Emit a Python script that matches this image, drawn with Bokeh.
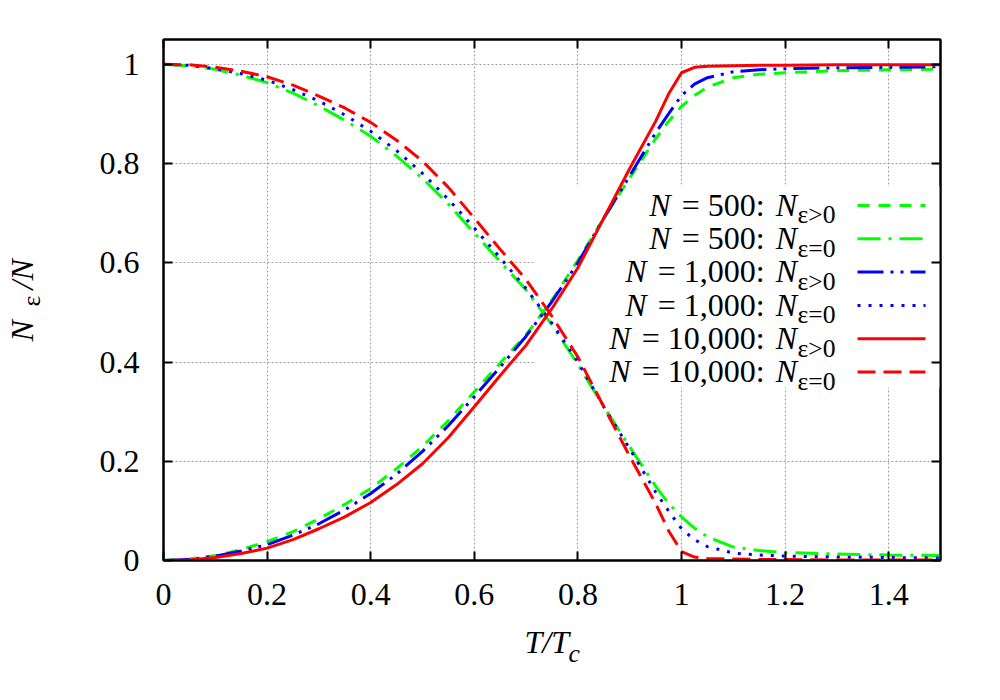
from bokeh.plotting import figure
from bokeh.models import Range1d, LinearAxis, Label, FixedTicker
from bokeh.embed import file_html
from bokeh.resources import INLINE
import math

try:
    from bokeh.core.enums import CoordinateUnits
    HAS_CANVAS = "canvas" in CoordinateUnits
except Exception:
    HAS_CANVAS = False

# ---------------- data ----------------
T = [0, 0.05, 0.1, 0.15, 0.2, 0.25, 0.3, 0.35, 0.4, 0.45, 0.5, 0.55, 0.6, 0.65,
     0.7, 0.75, 0.8, 0.85, 0.9, 0.95, 0.975, 1.0, 1.025, 1.05, 1.1, 1.15, 1.2,
     1.3, 1.4, 1.5]

n500_exc = [0, 0.003, 0.010, 0.022, 0.038, 0.058, 0.084, 0.113, 0.145, 0.185,
            0.230, 0.282, 0.340, 0.398, 0.455, 0.525, 0.605, 0.690, 0.771, 0.850,
            0.885, 0.915, 0.937, 0.954, 0.973, 0.980, 0.983, 0.987, 0.989, 0.990]
n500_gnd = [1.0, 0.997, 0.990, 0.978, 0.963, 0.942, 0.916, 0.887, 0.855, 0.815,
            0.770, 0.718, 0.660, 0.602, 0.545, 0.475, 0.395, 0.310, 0.229, 0.150,
            0.115, 0.088, 0.065, 0.048, 0.027, 0.020, 0.016, 0.013, 0.011, 0.010]
n1000_exc = [0, 0.002, 0.009, 0.019, 0.032, 0.051, 0.074, 0.102, 0.135, 0.174,
             0.220, 0.272, 0.330, 0.390, 0.452, 0.522, 0.600, 0.690, 0.775, 0.862,
             0.900, 0.937, 0.960, 0.973, 0.985, 0.989, 0.991, 0.993, 0.994, 0.995]
n1000_gnd = [1.0, 0.998, 0.991, 0.981, 0.968, 0.949, 0.926, 0.898, 0.865, 0.826,
             0.780, 0.728, 0.670, 0.610, 0.548, 0.478, 0.400, 0.310, 0.225, 0.138,
             0.100, 0.064, 0.042, 0.028, 0.015, 0.011, 0.009, 0.007, 0.006, 0.005]
n10000_exc = [0, 0.001, 0.006, 0.014, 0.025, 0.042, 0.064, 0.088, 0.117, 0.153,
              0.195, 0.248, 0.310, 0.373, 0.434, 0.508, 0.590, 0.690, 0.790, 0.885,
              0.940, 0.983, 0.994, 0.996, 0.997, 0.998, 0.998, 0.999, 0.999, 0.999]
n10000_gnd = [1.0, 0.999, 0.994, 0.986, 0.975, 0.958, 0.936, 0.912, 0.883, 0.847,
              0.805, 0.752, 0.690, 0.627, 0.566, 0.492, 0.410, 0.310, 0.210, 0.115,
              0.060, 0.018, 0.007, 0.004, 0.003, 0.002, 0.002, 0.001, 0.001, 0.001]

x_ticks = [0, 0.2, 0.4, 0.6, 0.8, 1.0, 1.2, 1.4]
x_tick_labels = ["0", "0.2", "0.4", "0.6", "0.8", "1", "1.2", "1.4"]
y_ticks = [0, 0.2, 0.4, 0.6, 0.8, 1.0]
y_tick_labels = ["0", "0.2", "0.4", "0.6", "0.8", "1"]

legend_sizes = ["500", "500", "1,000", "1,000", "10,000", "10,000"]
legend_subs = ["\u03b5>0", "\u03b5=0", "\u03b5>0", "\u03b5=0", "\u03b5>0", "\u03b5=0"]

# ---------------- styles ----------------
GREEN, BLUE, RED = "#00ff00", "#0000ff", "#ff0000"
series = [
    (n500_exc, GREEN, "12 9"),
    (n500_gnd, GREEN, "23 8 3 8"),
    (n1000_exc, BLUE, "26 7 3 7 3 7"),
    (n1000_gnd, BLUE, "3 8"),
    (n10000_exc, RED, "solid"),
    (n10000_gnd, RED, "18 8"),
]
FONT = "Liberation Serif"
FS = 32
SUB_FS = 25.6
BASE_FIX = 9  # measured offset between requested and drawn baseline

# frame geometry (page pixels; the figure sits at the page's top-left corner)
FL, FR, FT, FB = 163, 940, 39, 560
XMIN, XMAX, YMIN, YMAX = 0.0, 1.5, 0.0, 1.05
W, H = 1000, 700


def X(px):
    return XMIN + (px - FL) / (FR - FL) * (XMAX - XMIN)


def Y(py):
    return YMIN + (FB - py) / (FB - FT) * (YMAX - YMIN)


p = figure(width=W, height=H, output_backend="svg", toolbar_location=None,
           x_range=Range1d(XMIN, XMAX), y_range=Range1d(YMIN, YMAX),
           min_border_left=FL, min_border_right=W - FR,
           min_border_top=FT, min_border_bottom=H - FB)
p.background_fill_color = "white"
p.border_fill_color = "white"
p.outline_line_color = "black"
p.outline_line_width = 2


def style_axis(ax, ticks, labels, show_labels):
    ax.ticker = FixedTicker(ticks=ticks)
    ax.major_label_overrides = {t: (l if show_labels else "") for t, l in zip(ticks, labels)}
    ax.axis_line_color = "black"
    ax.axis_line_width = 2
    ax.major_tick_line_color = "black"
    ax.major_tick_line_width = 2
    ax.major_tick_in = 9
    ax.major_tick_out = 0
    ax.minor_tick_line_color = None
    ax.major_label_text_font = FONT
    ax.major_label_text_color = "black"
    ax.major_label_text_font_size = f"{FS}px" if show_labels else "8px"
    if not show_labels:
        ax.major_label_standoff = 0
    ax.axis_label = None


style_axis(p.xaxis[0], x_ticks, x_tick_labels, True)
style_axis(p.yaxis[0], y_ticks, y_tick_labels, True)
p.xaxis[0].major_label_standoff = 23
p.yaxis[0].major_label_standoff = 24

top_ax = LinearAxis()
style_axis(top_ax, x_ticks, x_tick_labels, False)
p.add_layout(top_ax, "above")
right_ax = LinearAxis()
style_axis(right_ax, y_ticks, y_tick_labels, False)
p.add_layout(right_ax, "right")

for g in (p.xgrid[0], p.ygrid[0]):
    g.grid_line_color = "#a0a0a0"
    g.grid_line_dash = "2 2"
    g.grid_line_width = 1
p.xgrid[0].ticker = FixedTicker(ticks=x_ticks)
p.ygrid[0].ticker = FixedTicker(ticks=y_ticks)

# white key background (hides the grid, lies under the curves)
p.quad(left=[X(535)], right=[XMAX], bottom=[Y(387)], top=[Y(186)],
       fill_color="white", line_color=None)

for ys, col, dash in series:
    p.line(T, ys, line_color=col, line_width=3, line_dash=dash)

# ---------------- key ----------------
CW = {"0": 0.5, "1": 0.5, "5": 0.5, ",": 0.25, ":": 0.278, "=": 0.564, " ": 0.25}


def make_label(px, py, text, size=FS, italic=False, align="left", angle=0.0, outside=False):
    # (px, py): wanted baseline start in page pixels
    if angle == 0.0:
        py -= BASE_FIX
    else:
        px -= BASE_FIX
    if outside and HAS_CANVAS:
        x, y, units = px, py, "canvas"
    else:
        # screen units: relative to the frame's bottom-left corner, y upward
        x, y, units = px - FL, FB - py, "screen"
    return Label(x=x, y=y, x_units=units, y_units=units,
                 text=text, text_font=FONT,
                 text_font_size=f"{size}px",
                 text_font_style="italic" if italic else "normal",
                 text_align=align, text_baseline="alphabetic",
                 text_color="black", angle=angle)


SUB_RIGHT = 835
GAP = 11
for i, ((ys, col, dash), size, sub) in enumerate(zip(series, legend_sizes, legend_subs)):
    yc = 205 + 33.3 * i
    p.segment(x0=[X(857)], y0=[Y(yc)], x1=[X(925)], y1=[Y(yc)],
              line_color=col, line_width=3, line_dash=dash)
    base = yc + 8.3
    p.add_layout(make_label(SUB_RIGHT, base + 10, sub, size=SUB_FS, align="right"))
    n2_right = SUB_RIGHT - 1.504 * SUB_FS
    p.add_layout(make_label(n2_right, base, "N", italic=True, align="right"))
    eq_text = "= " + size + ":"
    eq_right = n2_right - 0.667 * FS - GAP
    p.add_layout(make_label(eq_right, base, eq_text, align="right"))
    eq_w = sum(CW.get(c, 0.5) for c in eq_text) * FS
    n1_right = eq_right - eq_w - GAP
    p.add_layout(make_label(n1_right, base, "N", italic=True, align="right"))

# ---------------- axis titles (in side panels so they are not clipped) ----------------
p.add_layout(make_label(524, 650, "T/T", italic=True, outside=True), "below")
p.add_layout(make_label(568, 662, "c", size=SUB_FS, italic=True, outside=True), "below")

rot = math.pi / 2
p.add_layout(make_label(30, 341, "N", italic=True, angle=rot, outside=True), "left")
p.add_layout(make_label(40, 306, "\u03b5", size=SUB_FS, angle=rot, outside=True), "left")
p.add_layout(make_label(30, 289, "/N", italic=True, angle=rot, outside=True), "right")

open("out.html", "w").write(file_html(p, INLINE))
